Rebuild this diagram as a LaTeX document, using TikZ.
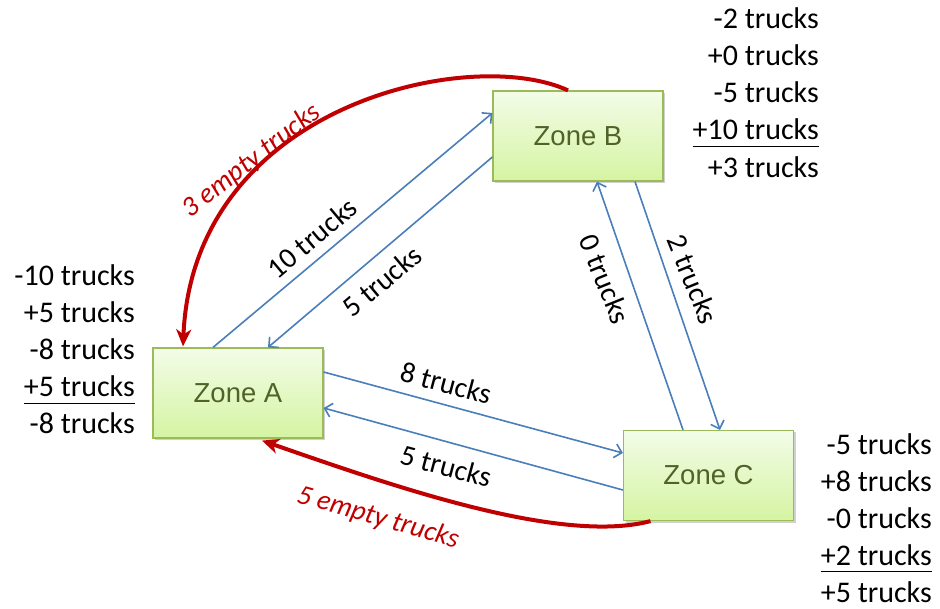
\documentclass[tikz,border=0pt]{standalone}
\usepackage{fontspec}
\setmainfont{Carlito}
\newfontfamily\zonefont{Liberation Sans}
\usetikzlibrary{arrows.meta,shadows}
\definecolor{zborder}{HTML}{9BBB59}
\definecolor{ztop}{HTML}{F3FCE8}
\definecolor{zbot}{HTML}{D5F4A2}
\definecolor{ztext}{HTML}{4F6228}
\definecolor{flowblue}{HTML}{4A7EBB}
\definecolor{emptyred}{HTML}{C00000}
\newcommand\subtot[1]{\underline{\rule[-5pt]{0pt}{1pt}#1}}
\begin{document}
\begin{tikzpicture}[x=1pt,y=-1pt,
  zone/.style={draw=zborder, line width=1.2pt, top color=ztop, bottom color=zbot,
    minimum width=170pt, minimum height=90pt, inner sep=0pt,
    font=\zonefont\fontsize{27.5}{33}\selectfont, text=ztext,
    drop shadow={shadow xshift=2pt,shadow yshift=-2pt,opacity=0.3,fill=black!60}},
  flow/.style={draw=flowblue, line width=1.6pt,
    -{Straight Barb[length=7pt,width=14pt,line width=1.6pt]}},
  emptyflow/.style={draw=emptyred, line width=4pt,
    -{Stealth[length=17pt,width=15pt,inset=5pt]}},
  lbl/.style={font=\fontsize{29}{35}\selectfont, inner sep=0pt},
  redlbl/.style={font=\fontsize{28}{34}\selectfont\itshape, text=emptyred, inner sep=0pt},
  listitem/.style={anchor=base east, inner sep=0pt, font=\fontsize{30}{37}\selectfont}]
\useasboundingbox (0,0) rectangle (940,609);

% zones
\node[zone] (A) at (238,393) {Zone A};
\node[zone] (B) at (578,136) {Zone B};
\node[zone] (C) at (708.5,475.5) {Zone C};

% loaded flows
\draw[flow] ([xshift=-25pt]A.north) -- ([yshift=23pt]B.west);
\draw[flow] ([yshift=-21pt]B.west) -- ([xshift=30pt]A.north);
\draw[flow] ([xshift=57pt]B.south) -- ([xshift=11.5pt]C.north);
\draw[flow] ([xshift=-25.5pt]C.north) -- ([xshift=19pt]B.south);
\draw[flow] ([yshift=21pt]A.east) -- ([yshift=22.5pt]C.west);
\draw[flow] ([yshift=-14.5pt]C.west) -- ([yshift=-15pt]A.east);

% empty flows
\draw[emptyflow] ([xshift=-10pt]B.north) .. controls (470,45) and (193,105) .. ([xshift=-55pt,yshift=1pt]A.north);
\draw[emptyflow] ([xshift=-58pt]C.south) .. controls (560,545) and (390,485) .. ([xshift=24pt,yshift=-2pt]A.south);

% flow labels
\node[lbl, rotate=40] (lab1) at (312,238) {10 trucks};
\node[lbl, rotate=40] (lab2) at (382,281) {5 trucks};
\node[lbl, rotate=-68] (lab3) at (605,279) {0 trucks};
\node[lbl, rotate=-68] (lab4) at (693,279) {2 trucks};
\node[lbl, rotate=-15] (lab5) at (446,383) {8 trucks};
\node[lbl, rotate=-15] (lab6) at (446,466) {5 trucks};
\node[redlbl, rotate=38] (lab7) at (252,161) {3 empty trucks};
\node[redlbl, rotate=-16] (lab8) at (378,518) {5 empty trucks};

% balance of zone B
\node[listitem] (b1) at (819,29) {-2 trucks};
\node[listitem] (b2) at (819,66) {+0 trucks};
\node[listitem] (b3) at (819,103) {-5 trucks};
\node[listitem] (b4) at (819,140) {\subtot{+10 trucks}};
\node[listitem] (b5) at (819,178) {+3 trucks};

% balance of zone A
\node[listitem] (a1) at (135,286) {-10 trucks};
\node[listitem] (a2) at (135,323) {+5 trucks};
\node[listitem] (a3) at (135,360) {-8 trucks};
\node[listitem] (a4) at (135,397) {\subtot{+5 trucks}};
\node[listitem] (a5) at (135,434) {-8 trucks};

% balance of zone C
\node[listitem] (c1) at (932,454) {-5 trucks};
\node[listitem] (c2) at (932,491) {+8 trucks};
\node[listitem] (c3) at (932,528) {-0 trucks};
\node[listitem] (c4) at (932,565) {\subtot{+2 trucks}};
\node[listitem] (c5) at (932,602) {+5 trucks};
\end{tikzpicture}
\end{document}
